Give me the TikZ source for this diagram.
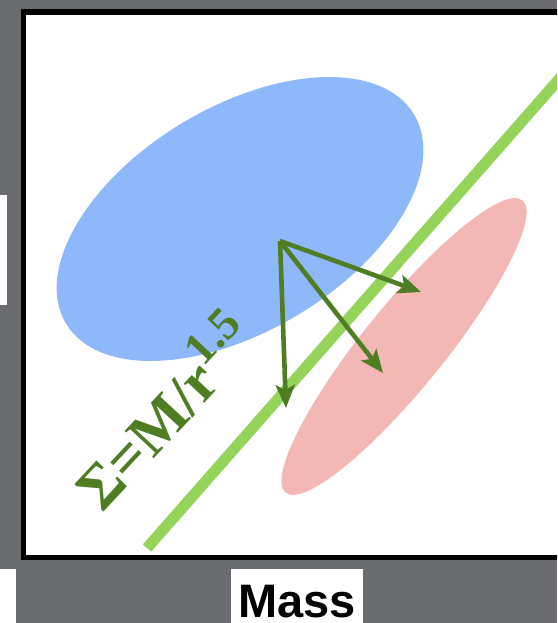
\documentclass[tikz,border=0pt]{standalone}
\usepackage{fontspec}
\setmainfont{Liberation Serif}
\setsansfont{Liberation Sans}
\usetikzlibrary{arrows.meta}
\definecolor{bggray}{RGB}{106,108,112}
\definecolor{blueE}{RGB}{143,184,250}
\definecolor{redE}{RGB}{243,184,181}
\definecolor{lgreen}{RGB}{149,211,90}
\definecolor{dgreen}{RGB}{78,125,36}
\tikzset{
  vecarrow/.style={draw=dgreen, line width=4.6pt, -{Stealth[length=23pt,width=19pt,inset=5pt]}},
  whitebox/.style={fill=white},
}
\begin{document}
\begin{tikzpicture}[x=1pt,y=-1pt]
\useasboundingbox (0,0) rectangle (557,623);
\clip (0,0) rectangle (557,623);
\fill[bggray] (0,0) rectangle (557,623);
% side label remnants
\fill[whitebox] (-5,195) rectangle (7,305);
\fill[whitebox] (-5,569) rectangle (16,640);
% plot frame
\filldraw[fill=white, draw=black, line width=5.5pt] (23.5,12) rectangle (640,557.5);
% ellipses
\fill[blueE, rotate around={31:(240,219)}] (240,219) ellipse [x radius=203pt, y radius=112pt];
\fill[redE, rotate around={51:(404,346.5)}] (404,346.5) ellipse [x radius=188pt, y radius=41pt];
% green line
\coordinate (lineA) at (147,548);
\coordinate (lineB) at (590,44);
\draw[lgreen, line width=11pt] (lineA) -- (lineB);
% arrows
\coordinate (o) at (280,241);
\coordinate (t1) at (421,292);
\coordinate (t2) at (383,373);
\coordinate (t3) at (286,408);
\draw[vecarrow] (o) -- (t1);
\draw[vecarrow] (o) -- (t2);
\draw[vecarrow] (o) -- (t3);
% formula
\node[anchor=base west, rotate=47, text=dgreen, font=\bfseries\fontsize{61}{64}\selectfont, inner sep=0pt] (formula) at (102,514) {Σ=M/r\raisebox{0.42em}{\fontsize{46}{48}\selectfont 1.5}};
% axis label
\node[fill=white, anchor=north west, minimum width=132pt, minimum height=70pt, inner sep=0pt] (massbox) at (231,569) {};
\node[anchor=base, font=\sffamily\bfseries\fontsize{47}{50}\selectfont, inner sep=0pt] (mass) at (297,617) {Mass};
\end{tikzpicture}
\end{document}
